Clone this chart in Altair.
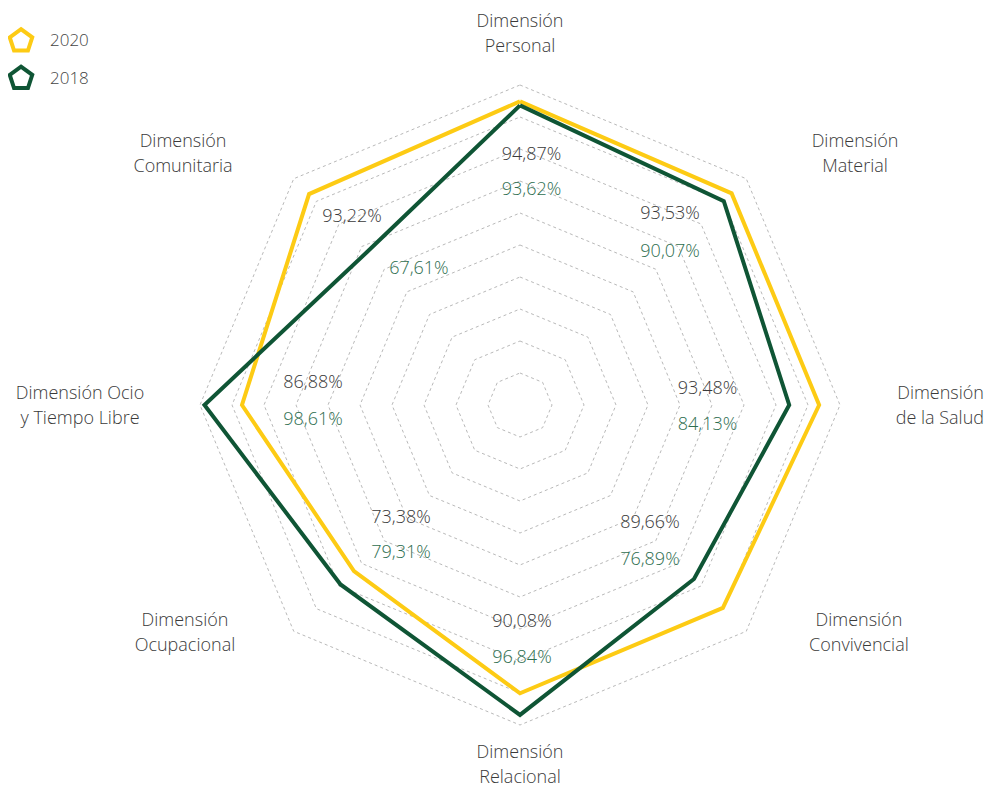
import math
import altair as alt
import pandas as pd

# ---- data ----
dimensions = ["Personal", "Material", "Salud", "Convivencial", "Relacional",
              "Ocupacional", "Ocio", "Comunitaria"]
axis_labels = ["Dimensión\nPersonal", "Dimensión\nMaterial", "Dimensión\nde la Salud",
               "Dimensión\nConvivencial", "Dimensión\nRelacional", "Dimensión\nOcupacional",
               "Dimensión Ocio\ny Tiempo Libre", "Dimensión\nComunitaria"]
values_2020 = [94.87, 93.53, 93.48, 89.66, 90.08, 73.38, 86.88, 93.22]
values_2018 = [93.62, 90.07, 84.13, 76.89, 96.84, 79.31, 98.61, 67.61]
series = ["2020", "2018"]
colors = ["#FDCB14", "#0F5535"]
text_colors = ["#3a3a3a", "#2e6e4f"]
grid_levels = [10, 20, 30, 40, 50, 60, 70, 80, 90, 100]

# ---- layout helpers ----
angles = [90 - 45 * i for i in range(len(dimensions))]
W, H = 977, 782
CX, CY = 512, 397          # centre in plot pixels
PX = 3.2                   # pixels per percentage point
xdom = [-CX / PX, (W - CX) / PX]
ydom = [-(H - CY) / PX, CY / PX]
xs = alt.Scale(domain=xdom, nice=False, zero=False)
ys = alt.Scale(domain=ydom, nice=False, zero=False)


def polar(r, a):
    return r * math.cos(math.radians(a)), r * math.sin(math.radians(a))


# grid octagons
grid_rows = []
for lv in grid_levels:
    for k in range(len(angles) + 1):
        x, y = polar(lv, angles[k % len(angles)])
        grid_rows.append({"level": lv, "k": k, "x": x, "y": y})
grid_df = pd.DataFrame(grid_rows)

# series polygons
ser_rows = []
for s, vals in zip(series, [values_2020, values_2018]):
    for k in range(len(angles) + 1):
        x, y = polar(vals[k % len(angles)], angles[k % len(angles)])
        ser_rows.append({"serie": s, "k": k, "x": x, "y": y})
ser_df = pd.DataFrame(ser_rows)

# axis label anchor (first line) in data units
label_x = [0.0, 104.7, 145.0, 105.9, 0.0, -104.7, -137.5, -105.3]
label_y = [119.7, 82.2, 3.4, -67.5, -108.8, -67.5, 3.4, 82.2]
label_align = ["center", "center", "right", "center", "center", "center", "center", "center"]
lab_df = pd.DataFrame({"label": axis_labels, "x": label_x, "y": label_y, "align": label_align})

# value label positions (data units)
val_x_2020 = [3.6, 46.9, 58.6, 40.6, 0.6, -37.2, -64.7, -52.5]
val_y_2020 = [78.1, 59.7, 4.9, -36.9, -67.7, -35.3, 6.9, 58.8]
val_x_2018 = [3.6, 46.9, 58.6, 40.6, 0.6, -37.2, -64.7, -31.6]
val_y_2018 = [67.2, 47.8, -6.3, -48.4, -79.1, -46.3, -4.7, 42.5]


def fmt(v):
    return f"{v:.2f}".replace(".", ",") + "%"


val_rows = []
for i in range(len(dimensions)):
    val_rows.append({"serie": "2020", "txt": fmt(values_2020[i]), "x": val_x_2020[i], "y": val_y_2020[i]})
    val_rows.append({"serie": "2018", "txt": fmt(values_2018[i]), "x": val_x_2018[i], "y": val_y_2018[i]})
val_df = pd.DataFrame(val_rows)

# legend
leg_df = pd.DataFrame({
    "serie": series,
    "x": [(21 - 8 - CX) / PX] * 2,
    "y": [(CY - (41 - 8)) / PX, (CY - (78.5 - 8)) / PX],
    "tx": [(50 - 8 - CX) / PX] * 2,
})

X = lambda f: alt.X(f"{f}:Q", scale=xs, axis=None)
Y = lambda f: alt.Y(f"{f}:Q", scale=ys, axis=None)

FONT = "Open Sans"

grid = alt.Chart(grid_df).mark_line(
    color="#b9b9b9", strokeWidth=1, strokeDash=[3, 3]
).encode(x=X("x"), y=Y("y"), detail="level:N", order="k:Q")

layers = [grid]
for s, c in zip(series, colors):
    layers.append(
        alt.Chart(ser_df).transform_filter(alt.datum.serie == s)
        .mark_line(strokeWidth=4, strokeJoin="miter", color=c)
        .encode(x=X("x"), y=Y("y"), order="k:Q")
    )

for al in ["center", "right"]:
    layers.append(
        alt.Chart(lab_df).transform_filter(alt.datum.align == al).mark_text(
            font=FONT, fontSize=18, fontWeight=300, color="#3a3a3a", lineBreak="\n",
            lineHeight=25, align=al, baseline="middle"
        ).encode(x=X("x"), y=Y("y"), text="label:N")
    )

for s, c in zip(series, text_colors):
    layers.append(
        alt.Chart(val_df).transform_filter(alt.datum.serie == s).mark_text(
            font=FONT, fontSize=18, fontWeight=300, color=c, align="center", baseline="middle"
        ).encode(x=X("x"), y=Y("y"), text="txt:N")
    )

pent = "M0,-1L0.951,-0.309L0.588,0.809L-0.588,0.809L-0.951,-0.309Z"
for s, c in zip(series, colors):
    layers.append(
        alt.Chart(leg_df).transform_filter(alt.datum.serie == s).mark_point(
            shape=pent, size=560, strokeWidth=4, fill="white", filled=False,
            opacity=1, color=c, stroke=c
        ).encode(x=X("x"), y=Y("y"))
    )

layers.append(
    alt.Chart(leg_df).mark_text(
        font=FONT, fontSize=17, fontWeight=300, color="#444444", align="left", baseline="middle"
    ).encode(x=X("tx"), y=Y("y"), text="serie:N")
)

chart = alt.layer(*layers).properties(
    width=W, height=H, autosize=alt.AutoSizeParams(type="none"), padding=0
).configure_view(stroke=None)

chart.save("out.html", embed_options={"renderer": "svg", "actions": False})
